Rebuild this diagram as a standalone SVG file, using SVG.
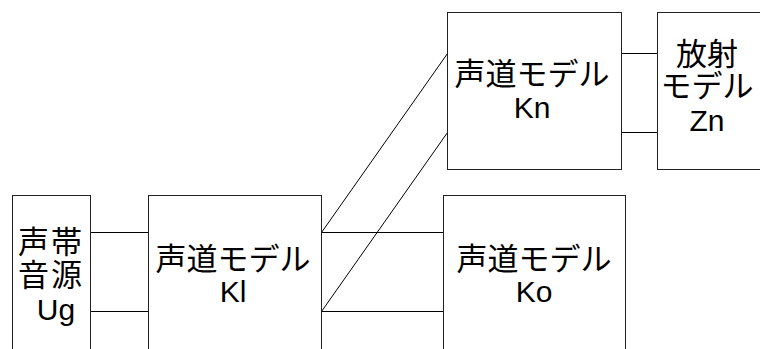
<svg xmlns="http://www.w3.org/2000/svg" width="760" height="349" viewBox="0 0 760 349">
<style>
.box{fill:#fff;stroke:#222;stroke-width:1}
.ln{stroke:#000;stroke-width:1;fill:none}
text{font-family:"Liberation Sans","Noto Sans CJK JP",sans-serif;font-size:30px;fill:#000;text-anchor:middle}
.j{font-size:31px}
</style>
<rect width="760" height="349" fill="#fff"/>
<g id="connectors">
<line class="ln" x1="90.5" y1="232.5" x2="148.5" y2="232.5"/>
<line class="ln" x1="90.5" y1="311.5" x2="148.5" y2="311.5"/>
<line class="ln" x1="321.5" y1="232.5" x2="443.5" y2="232.5"/>
<line class="ln" x1="321.5" y1="311.5" x2="443.5" y2="311.5"/>
<line class="ln" x1="321.5" y1="232.5" x2="447.5" y2="53.5"/>
<line class="ln" x1="321.5" y1="311.5" x2="447.5" y2="132.5"/>
<line class="ln" x1="621.5" y1="53.5" x2="657.5" y2="53.5"/>
<line class="ln" x1="621.5" y1="132.5" x2="657.5" y2="132.5"/>
</g>
<g id="Ug">
<rect class="box" x="12.5" y="195.5" width="78" height="170"/>
<text class="j" x="51" y="253" letter-spacing="2">声帯</text>
<text class="j" x="51" y="286" letter-spacing="2">音源</text>
<text x="56" y="320">Ug</text>
</g>
<g id="Kl">
<rect class="box" x="148.5" y="195.5" width="173" height="170"/>
<text class="j" x="233" y="270">声道モデル</text>
<text x="233" y="302">Kl</text>
</g>
<g id="Kn">
<rect class="box" x="447.5" y="12.5" width="174" height="157"/>
<text class="j" x="532" y="85">声道モデル</text>
<text x="532" y="118">Kn</text>
</g>
<g id="Ko">
<rect class="box" x="443.5" y="195.5" width="182" height="170"/>
<text class="j" x="534" y="270">声道モデル</text>
<text x="534" y="302">Ko</text>
</g>
<g id="Zn">
<rect class="box" x="657.5" y="12.5" width="120" height="157"/>
<text class="j" x="707" y="65">放射</text>
<text class="j" x="707" y="97">モデル</text>
<text x="707" y="131">Zn</text>
</g>
</svg>
